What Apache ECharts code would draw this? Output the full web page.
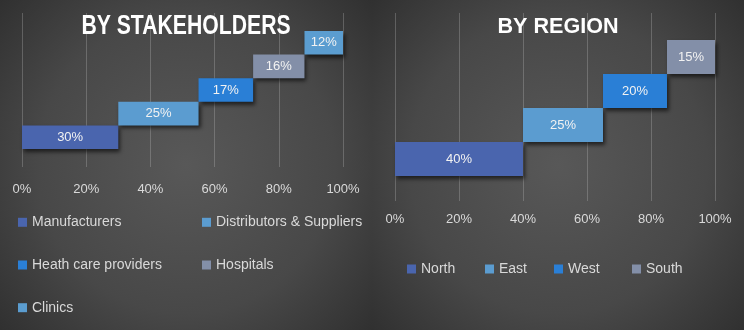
<!DOCTYPE html>
<html>
<head>
<meta charset="utf-8">
<style>
  html, body { margin: 0; padding: 0; background: #3a3a3a; }
  #chart { width: 744px; height: 330px; }
</style>
<script src="https://cdn.jsdelivr.net/npm/echarts@6/dist/echarts.min.js"></script>
</head>
<body>
<div id="chart"></div>
<script>
// Stakeholder breakdown (share of total, %)
const stakeholderNames = ['Manufacturers', 'Distributors & Suppliers', 'Heath care providers', 'Hospitals', 'Clinics'];
const stakeholderShares = [30, 25, 17, 16, 12];
const stakeholderColors = ['#4a65ae', '#5b9cd0', '#2a7fd6', '#838fa8', '#5b9dd0'];

// Regional breakdown (share of total, %)
const regionNames = ['North', 'East', 'West', 'South'];
const regionShares = [40, 25, 20, 15];
const regionColors = ['#4a65ae', '#5b9cd0', '#2a7fd6', '#838fa8'];

// Percentage axis
const axisMin = 0;
const axisMax = 100;
const axisStep = 20;

const textColor = '#d9d9d9';
const uiFont = '"Liberation Sans", Arial, sans-serif';

// Builds an invisible offset series plus one visible series per category,
// so each step starts where the previous one ended.
function stepSeries(names, shares, colors, xIdx, yIdx, stackId) {
  const offsets = [];
  let run = 0;
  shares.forEach(v => { offsets.push(run); run += v; });
  const out = [{
    type: 'bar',
    name: stackId + '-offset',
    stack: stackId,
    xAxisIndex: xIdx,
    yAxisIndex: yIdx,
    barCategoryGap: '0%',
    silent: true,
    itemStyle: { color: 'transparent' },
    data: offsets
  }];
  names.forEach((n, i) => {
    out.push({
      type: 'bar',
      name: n,
      stack: stackId,
      xAxisIndex: xIdx,
      yAxisIndex: yIdx,
      barCategoryGap: '0%',
      itemStyle: {
        color: colors[i],
        shadowColor: 'rgba(0,0,0,0.6)',
        shadowBlur: 4,
        shadowOffsetX: 2,
        shadowOffsetY: 3
      },
      label: {
        show: true,
        position: 'inside',
        formatter: '{c}%',
        color: '#f2f2f2',
        fontSize: 13,
        fontFamily: uiFont
      },
      data: shares.map((v, j) => (j === i ? v : '-'))
    });
  });
  return out;
}

function valueAxis(gridIndex, showParts, margin) {
  return {
    type: 'value',
    gridIndex: gridIndex,
    min: axisMin,
    max: axisMax,
    interval: axisStep,
    axisLine: { show: false },
    axisTick: { show: false },
    axisLabel: {
      show: showParts,
      formatter: '{value}%',
      color: textColor,
      fontSize: 13,
      fontFamily: uiFont,
      margin: margin
    },
    splitLine: {
      show: showParts,
      lineStyle: { color: 'rgba(200,200,200,0.28)', width: 1 }
    }
  };
}

function categoryAxis(gridIndex, names) {
  return {
    type: 'category',
    gridIndex: gridIndex,
    data: names,
    show: false
  };
}

function panelBackground(x) {
  return {
    type: 'rect',
    silent: true,
    z: -10,
    shape: { x: x, y: 0, width: 372, height: 330 },
    style: {
      fill: {
        type: 'radial', x: 0.5, y: 0.5, r: 0.82,
        colorStops: [
          { offset: 0, color: '#585858' },
          { offset: 0.55, color: '#484848' },
          { offset: 1, color: '#2b2b2b' }
        ]
      }
    }
  };
}

function heading(text, cx, cy, size, sx) {
  return {
    type: 'text',
    x: cx,
    y: cy,
    scaleX: sx,
    z: 10,
    style: {
      text: text,
      fill: '#ffffff',
      font: 'bold ' + size + 'px ' + uiFont,
      align: 'center',
      verticalAlign: 'middle',
      shadowColor: 'rgba(0,0,0,0.7)',
      shadowBlur: 3,
      shadowOffsetX: 1,
      shadowOffsetY: 1
    }
  };
}

function legendBlock(names, left, top, orient, gap) {
  return {
    data: names,
    left: left,
    top: top,
    padding: 0,
    orient: orient,
    itemGap: gap,
    itemWidth: 9,
    itemHeight: 9,
    icon: 'rect',
    selectedMode: false,
    textStyle: { color: textColor, fontSize: 14, fontFamily: uiFont, lineHeight: 16 }
  };
}

const chart = echarts.init(document.getElementById('chart'), null, { renderer: 'canvas' });

const option = {
  backgroundColor: '#333333',
  animation: false,
  graphic: [
    panelBackground(0),
    panelBackground(372),
    heading('BY STAKEHOLDERS', 186, 26.5, 27, 0.785),
    heading('BY REGION', 558, 26.5, 22, 0.98)
  ],
  grid: [
    // left panel: gridline frame, then bar area
    { left: 22, width: 321, top: 13, height: 154 },
    { left: 22, width: 321, top: 31, height: 118 },
    // right panel
    { left: 395, width: 320, top: 13, height: 188 },
    { left: 395, width: 320, top: 40, height: 136 }
  ],
  xAxis: [
    valueAxis(0, true, 16),
    valueAxis(1, false, 0),
    valueAxis(2, true, 12),
    valueAxis(3, false, 0)
  ],
  yAxis: [
    categoryAxis(0, stakeholderNames),
    categoryAxis(1, stakeholderNames),
    categoryAxis(2, regionNames),
    categoryAxis(3, regionNames)
  ],
  legend: [
    legendBlock([stakeholderNames[0], stakeholderNames[2], stakeholderNames[4]], 18, 214.3, 'vertical', 26.7),
    legendBlock([stakeholderNames[1], stakeholderNames[3]], 202, 214.3, 'vertical', 26.7),
    legendBlock([regionNames[0]], 407, 261, 'horizontal', 10),
    legendBlock([regionNames[1]], 485, 261, 'horizontal', 10),
    legendBlock([regionNames[2]], 554, 261, 'horizontal', 10),
    legendBlock([regionNames[3]], 632, 261, 'horizontal', 10)
  ],
  series: [
    ...stepSeries(stakeholderNames, stakeholderShares, stakeholderColors, 1, 1, 'stake'),
    ...stepSeries(regionNames, regionShares, regionColors, 3, 3, 'region')
  ]
};

chart.setOption(option);
</script>
</body>
</html>
